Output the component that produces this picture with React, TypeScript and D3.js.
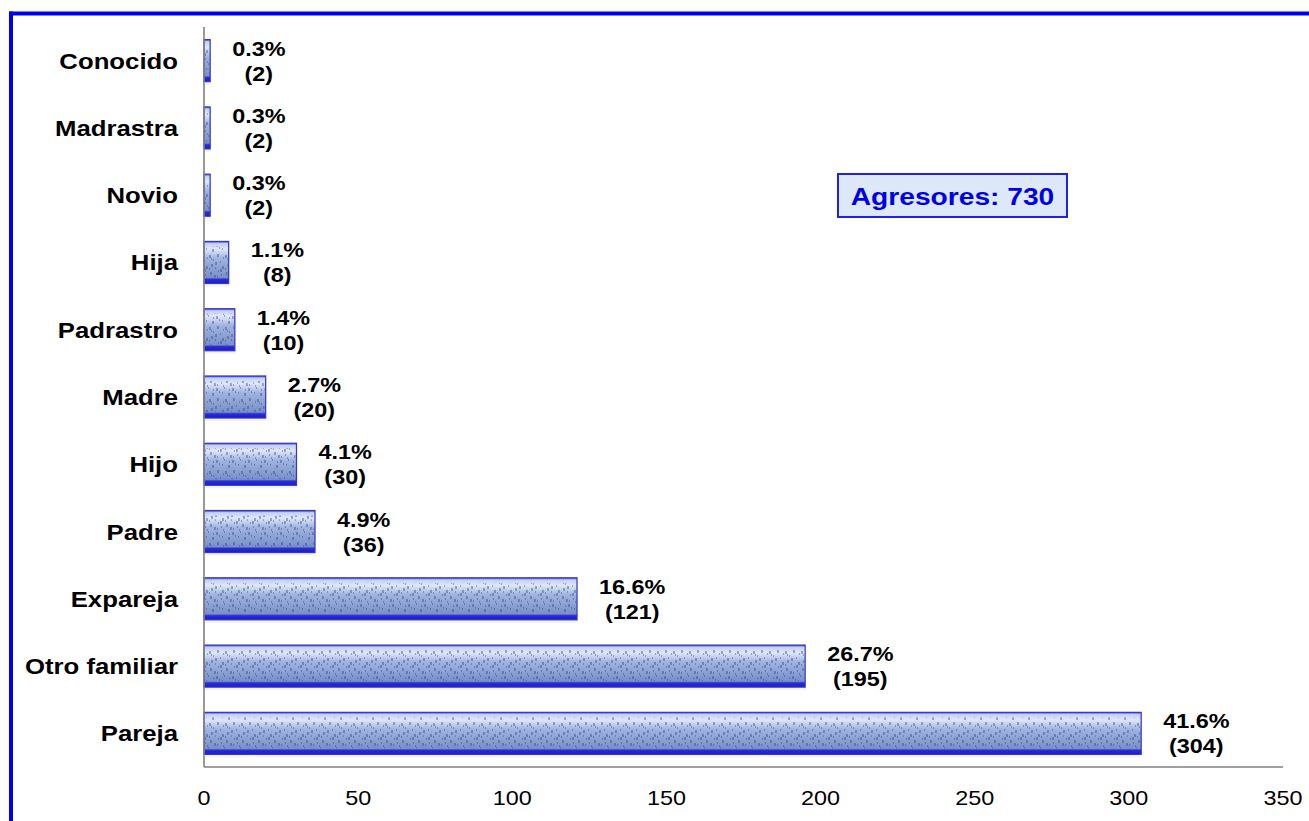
import React from "react";
import * as d3 from "d3";

const categories = ["Conocido", "Madrastra", "Novio", "Hija", "Padrastro", "Madre", "Hijo", "Padre", "Expareja", "Otro familiar", "Pareja"];
const counts = [2, 2, 2, 8, 10, 20, 30, 36, 121, 195, 304];
const percents = ["0.3%", "0.3%", "0.3%", "1.1%", "1.4%", "2.7%", "4.1%", "4.9%", "16.6%", "26.7%", "41.6%"];
const xTicks = [0, 50, 100, 150, 200, 250, 300, 350];
const totalLabel = "Agresores: 730";

const W = 1309;
const H = 821;
const FONT = "'Liberation Sans', Arial, Helvetica, sans-serif";
const SX = 1.17;

const charW: Record<string, number> = { ".": 0.278, "%": 0.889 };
function pctWidth(s: string, size: number) {
  let w = 0;
  for (const c of s) w += charW[c] ?? 0.556;
  return w * size * SX;
}

// deterministic speck layout for bar texture
const specks: [number, number, number][] = [
  [1, 3, 2], [5, 7, 1], [9, 2, 2], [12, 9, 1], [3, 12, 2], [7, 15, 1], [14, 14, 2], [10, 18, 1],
  [2, 20, 2], [6, 23, 2], [13, 22, 1], [0, 27, 1], [8, 28, 2], [11, 31, 1], [4, 33, 2], [15, 5, 1],
  [3, 6, 1], [7, 10, 2], [15, 25, 1], [5, 29, 1], [12, 17, 2], [1, 16, 1], [9, 24, 1], [14, 32, 1],
];

export default function App() {
  const x = d3.scaleLinear().domain([0, 350]).range([204, 1283]);
  const y = d3.scaleBand<string>().domain(categories).range([27, 767]).paddingInner(0.375).paddingOuter(0.1875);
  const bw = y.bandwidth();

  return (
    <div style={{ position: "absolute", left: 0, top: 0, width: W, height: H, background: "#fff" }}>
      <svg width={W} height={H} style={{ display: "block" }} fontFamily={FONT}>
        <defs>
          <linearGradient id="barGrad" x1="0" y1="0" x2="0" y2="1">
            <stop offset="0" stopColor="#4040cc" />
            <stop offset="0.05" stopColor="#c2d0f0" />
            <stop offset="0.18" stopColor="#dfe8f9" />
            <stop offset="0.4" stopColor="#a0b4e0" />
            <stop offset="0.66" stopColor="#8aa0d2" />
            <stop offset="0.86" stopColor="#7890c8" />
            <stop offset="0.9" stopColor="#2c2cd8" />
            <stop offset="1" stopColor="#1b1bc6" />
          </linearGradient>
          <pattern id="speck" width={16} height={36} patternUnits="userSpaceOnUse">
            {specks.map(([sx, sy, sw], i) => (
              <rect key={i} x={sx} y={sy} width={sw} height={sw + 1} fill="#34457f" />
            ))}
          </pattern>
        </defs>

        {/* frame */}
        <line x1={9} x2={W} y1={13.5} y2={13.5} stroke="#0000f0" strokeWidth={4} />
        <line x1={11} x2={11} y1={11.5} y2={H} stroke="#0000f0" strokeWidth={4} />

        {/* bars */}
        {categories.map((c, i) => {
          const y0 = y(c)!;
          const w = x(counts[i]) - x(0);
          return (
            <g key={c}>
              <rect x={x(0) + 1} y={y0 + 3} width={w} height={bw} fill="#eef0dc" opacity={0.7} />
              <rect x={x(0)} y={y0} width={w} height={bw} fill="url(#barGrad)" stroke="#3535c8" strokeWidth={1.2} />
              <rect x={x(0) + 1} y={y0 + 5} width={Math.max(0, w - 2)} height={bw - 11} fill="url(#speck)" opacity={0.42} />
            </g>
          );
        })}

        {/* axes */}
        <line x1={204} x2={204} y1={27} y2={767} stroke="#808080" strokeWidth={1.6} />
        <line x1={204} x2={1283} y1={767} y2={767} stroke="#808080" strokeWidth={1.6} />

        {/* category labels */}
        {categories.map((c) => (
          <text
            key={c}
            transform={`translate(178,${y(c)! + bw / 2 + 8}) scale(${SX},1)`}
            textAnchor="end"
            fontSize={22}
            fontWeight="bold"
            fill="#000"
          >
            {c}
          </text>
        ))}

        {/* value labels */}
        {categories.map((c, i) => {
          const cy = y(c)! + bw / 2;
          const cx = x(counts[i]) + 22 + pctWidth(percents[i], 20) / 2;
          return (
            <g key={c} fontSize={20} fontWeight="bold" fill="#000">
              <text transform={`translate(${cx},${cy - 5}) scale(${SX},1)`} textAnchor="middle">
                {percents[i]}
              </text>
              <text transform={`translate(${cx},${cy + 20}) scale(${SX},1)`} textAnchor="middle">
                {`(${counts[i]})`}
              </text>
            </g>
          );
        })}

        {/* x tick labels */}
        {xTicks.map((t) => (
          <text key={t} transform={`translate(${x(t)},805) scale(${SX},1)`} textAnchor="middle" fontSize={20} fill="#000">
            {t}
          </text>
        ))}

        {/* total box */}
        <rect x={838} y={174} width={229} height={43} fill="#dde9f8" stroke="#1f1ff0" strokeWidth={2} />
        <text transform={`translate(952.5,205) scale(1.15,1)`} textAnchor="middle" fontSize={24.5} fontWeight="bold" fill="#0000e6">
          {totalLabel}
        </text>
      </svg>
    </div>
  );
}
